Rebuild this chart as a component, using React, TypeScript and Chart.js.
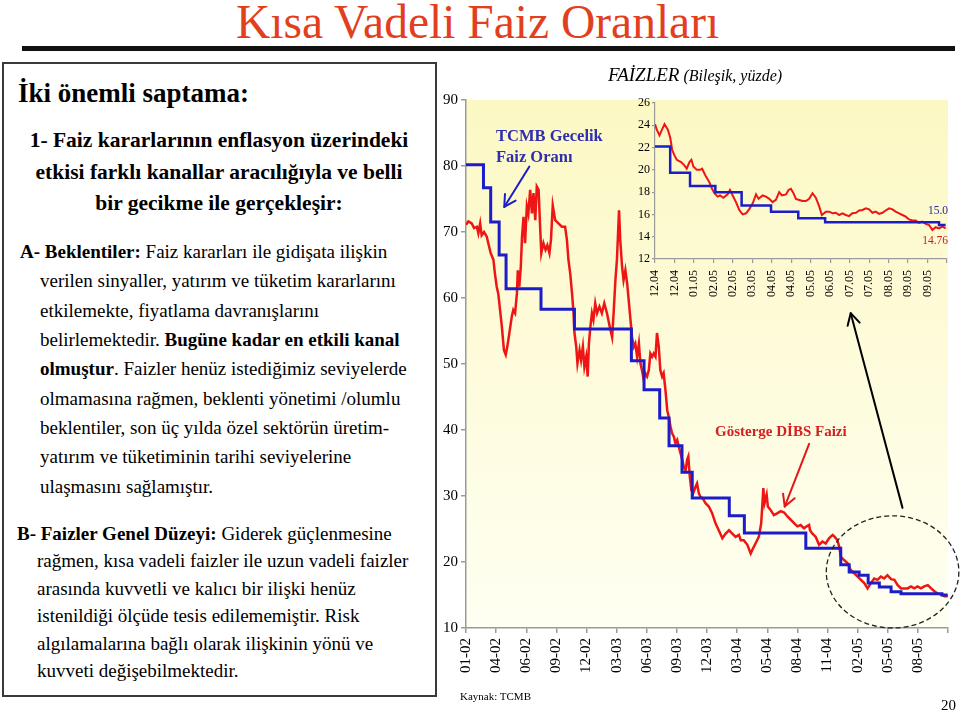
import React, { useEffect, useRef } from 'react';
import { Chart, registerables } from 'chart.js';

Chart.register(...registerables);

const SERIF = '"Liberation Serif", "Times New Roman", Times, serif';

// ---------- main chart data (x in axis-category units) ----------
const mainXLabels = ['01-02', '04-02', '06-02', '09-02', '12-02', '03-03', '06-03', '09-03', '12-03', '03-04', '05-04', '08-04', '11-04', '02-05', '05-05', '08-05'];

// Gösterge DİBS faizi (red) — [x, value]
const mainDibs: [number, number][] = [
  [0, 71.1], [0.08, 71.6], [0.19, 71.3], [0.27, 70.6], [0.36, 70.8], [0.41, 69.8], [0.47, 71.3], [0.52, 69.5], [0.6, 70.0], [0.69, 69.3],
  [0.74, 68.3], [0.82, 66.8], [0.91, 65.8], [0.96, 63.7], [1.02, 61.7], [1.07, 60.7], [1.13, 58.2], [1.19, 55.7], [1.22, 54.1], [1.26, 52.1],
  [1.32, 51.4], [1.37, 52.6], [1.44, 54.7], [1.52, 57.2], [1.57, 58.2], [1.63, 57.7], [1.69, 60.7], [1.72, 64.2], [1.77, 61.7], [1.82, 64.8],
  [1.86, 69.3], [1.91, 72.3], [1.96, 68.3], [2.02, 73.9], [2.07, 72.8], [2.13, 76.4], [2.19, 72.8], [2.24, 75.9], [2.3, 71.8], [2.35, 76.9],
  [2.41, 76.4], [2.46, 70.8], [2.5, 66.8], [2.57, 68.3], [2.64, 67.3], [2.7, 68.0], [2.77, 66.8], [2.82, 68.8], [2.88, 74.0], [2.96, 71.8],
  [3.07, 71.3], [3.18, 70.8], [3.29, 70.8], [3.35, 68.8], [3.4, 65.8], [3.46, 63.7], [3.52, 60.7], [3.57, 57.7], [3.6, 54.7], [3.66, 52.6],
  [3.7, 50.1], [3.77, 52.1], [3.82, 50.6], [3.88, 52.6], [3.93, 49.6], [3.99, 51.1], [4.04, 48.1], [4.08, 53.1], [4.13, 55.7], [4.18, 57.7],
  [4.23, 56.7], [4.29, 59.2], [4.35, 57.7], [4.43, 58.7], [4.51, 57.7], [4.59, 59.2], [4.68, 57.7], [4.77, 55.7], [4.85, 54.1], [4.9, 57.7],
  [4.96, 62.7], [5.01, 65.8], [5.08, 73.3], [5.12, 68.8], [5.18, 64.8], [5.23, 62.7], [5.29, 64.2], [5.35, 62.2], [5.4, 59.7], [5.46, 56.7],
  [5.51, 54.1], [5.57, 52.6], [5.62, 53.1], [5.68, 51.1], [5.74, 53.1], [5.79, 50.1], [5.84, 49.1], [5.9, 47.6], [5.95, 48.6], [6.01, 48.1],
  [6.07, 49.1], [6.12, 51.6], [6.18, 51.1], [6.23, 51.6], [6.29, 51.1], [6.34, 54.7], [6.4, 52.6], [6.45, 49.1], [6.51, 48.1], [6.56, 48.6],
  [6.62, 46.1], [6.68, 43.0], [6.73, 42.0], [6.79, 40.5], [6.84, 39.5], [6.9, 39.0], [6.95, 38.0], [7.01, 38.5], [7.06, 37.5], [7.12, 36.5],
  [7.18, 35.5], [7.23, 34.4], [7.29, 33.9], [7.34, 35.5], [7.38, 36.0], [7.43, 32.9], [7.48, 30.9], [7.54, 30.4], [7.62, 31.4], [7.67, 31.9],
  [7.73, 30.4], [7.78, 29.9], [7.84, 29.7], [7.89, 29.4], [7.95, 28.9], [8.06, 28.4], [8.17, 27.4], [8.28, 25.9], [8.39, 24.8], [8.51, 23.6],
  [8.62, 24.3], [8.73, 24.8], [8.84, 24.3], [8.95, 23.8], [9.06, 24.1], [9.12, 23.3], [9.22, 23.3], [9.34, 22.6], [9.45, 21.3], [9.5, 21.8],
  [9.61, 22.8], [9.72, 23.8], [9.8, 25.9], [9.87, 31.2], [9.91, 28.9], [9.98, 30.2], [10.02, 28.4], [10.11, 27.9], [10.22, 27.1], [10.34, 27.4],
  [10.45, 27.7], [10.56, 27.5], [10.67, 26.9], [10.78, 26.4], [10.89, 25.9], [11.0, 25.4], [11.11, 25.6], [11.22, 25.1], [11.31, 25.4], [11.39, 25.6],
  [11.42, 24.8], [11.5, 24.3], [11.61, 23.8], [11.72, 22.6], [11.83, 23.1], [11.94, 22.8], [12.05, 23.6], [12.17, 24.1], [12.24, 23.8], [12.33, 23.3],
  [12.39, 22.3], [12.44, 20.8], [12.55, 20.3], [12.67, 19.8], [12.77, 18.8], [12.88, 18.3], [13.0, 17.8], [13.11, 17.3], [13.22, 16.8], [13.33, 16.0],
  [13.44, 16.8], [13.55, 17.5], [13.66, 17.3], [13.77, 17.8], [13.88, 17.5], [13.99, 18.0], [14.11, 17.4], [14.22, 17.3], [14.33, 16.5], [14.44, 16.0],
  [14.55, 16.0], [14.66, 16.0], [14.77, 16.3], [14.88, 16.0], [14.99, 16.3], [15.1, 16.0], [15.21, 16.3], [15.33, 16.5], [15.44, 16.0], [15.54, 15.6],
  [15.66, 15.2], [15.77, 15.1], [15.88, 14.8], [15.99, 14.8],
];

// TCMB gecelik faiz oranı (blue step) — level starts at x
const mainTcmb: [number, number][] = [
  [0, 80.2], [0.58, 76.7], [0.82, 71.5], [1.1, 66.5], [1.33, 61.4], [2.49, 58.3], [3.6, 55.3], [5.49, 50.5], [5.91, 46.1], [6.43, 41.8],
  [6.74, 37.6], [7.17, 33.6], [7.51, 29.7], [8.74, 27.0], [9.24, 24.4], [11.28, 22.1], [12.44, 19.6], [12.72, 18.5], [13.05, 18.0], [13.35, 16.8],
  [13.72, 16.2], [14.11, 15.5], [14.44, 15.2], [15.8, 15.0], [15.99, 15.0],
];

// ---------- inset chart data ----------
const insetXLabels = ['12.04', '12.04', '01.05', '02.05', '02.05', '03.05', '04.05', '04.05', '05.05', '06.05', '07.05', '07.05', '08.05', '09.05', '09.05'];

const insetDibs: [number, number][] = [
  [0, 24.1], [0.09, 23.6], [0.23, 23.1], [0.33, 23.5], [0.49, 24.1], [0.66, 23.6], [0.78, 22.9], [0.83, 22.4], [0.88, 21.8], [1.0, 21.3],
  [1.12, 20.9], [1.34, 20.7], [1.51, 20.4], [1.63, 20.1], [1.77, 20.7], [1.87, 20.9], [1.97, 20.3], [2.15, 20.0], [2.32, 20.0], [2.42, 20.1],
  [2.59, 19.5], [2.79, 18.9], [2.93, 18.3], [3.05, 17.9], [3.22, 17.6], [3.34, 17.7], [3.51, 17.5], [3.73, 17.8], [3.85, 18.2], [3.99, 17.7],
  [4.16, 17.1], [4.33, 16.4], [4.5, 16.0], [4.68, 16.1], [4.85, 16.5], [5.02, 17.0], [5.19, 17.8], [5.32, 17.4], [5.53, 17.7], [5.7, 17.6],
  [5.87, 17.4], [6.04, 17.1], [6.21, 17.3], [6.38, 18.0], [6.52, 17.7], [6.73, 17.8], [6.86, 18.2], [6.98, 18.3], [7.1, 17.95], [7.24, 17.4],
  [7.41, 17.3], [7.58, 17.2], [7.75, 17.2], [7.92, 17.4], [8.09, 17.9], [8.26, 17.5], [8.44, 16.7], [8.57, 15.95], [8.78, 16.25], [8.95, 16.25],
  [9.12, 16.1], [9.29, 16.15], [9.46, 15.95], [9.63, 16.1], [9.8, 15.95], [9.97, 15.85], [10.14, 16.1], [10.32, 16.15], [10.49, 16.35], [10.66, 16.4],
  [10.83, 16.55], [11.0, 16.45], [11.17, 16.15], [11.34, 16.25], [11.51, 16.05], [11.68, 16.15], [11.85, 16.35], [12.03, 16.55], [12.2, 16.45], [12.36, 16.25],
  [12.54, 16.1], [12.71, 15.95], [12.88, 15.8], [13.05, 15.55], [13.22, 15.45], [13.39, 15.45], [13.56, 15.25], [13.73, 15.35], [13.91, 15.15], [14.08, 15.05],
  [14.25, 14.6], [14.42, 14.85], [14.59, 14.75], [14.76, 14.9], [14.93, 14.76],
];

const insetTcmb: [number, number][] = [
  [0, 22.1], [0.78, 19.75], [1.8, 18.55], [3.1, 18.0], [4.45, 16.8], [5.96, 16.25], [7.36, 15.65], [8.74, 15.3], [14.59, 15.05], [14.93, 15.05],
];

const RED = '#ee1515';
const BLUE = '#1c1cc8';
const AXIS = '#9a9a9a';

const toXY = (arr: [number, number][]) => arr.map(([x, y]) => ({ x, y }));

const bgPlugin = {
  id: 'plotBg',
  beforeDraw(chart: any, _a: any, opts: any) {
    if (!opts || !opts.fill) return;
    const { ctx, chartArea } = chart;
    const { left, top, right, bottom } = chartArea;
    const g = ctx.createLinearGradient(0, top, 0, bottom);
    g.addColorStop(0, '#fcf8c4');
    g.addColorStop(1, '#fffff2');
    ctx.save();
    ctx.fillStyle = g;
    ctx.fillRect(left, top, right - left, bottom - top);
    ctx.restore();
  },
};

function arrow(ctx: CanvasRenderingContext2D, x1: number, y1: number, x2: number, y2: number, color: string, w: number, head: number) {
  ctx.save();
  ctx.strokeStyle = color;
  ctx.lineWidth = w;
  ctx.lineCap = 'round';
  ctx.lineJoin = 'round';
  ctx.beginPath();
  ctx.moveTo(x1, y1);
  ctx.lineTo(x2, y2);
  ctx.stroke();
  const a = Math.atan2(y2 - y1, x2 - x1);
  ctx.beginPath();
  ctx.moveTo(x2 - head * Math.cos(a - 0.5), y2 - head * Math.sin(a - 0.5));
  ctx.lineTo(x2, y2);
  ctx.lineTo(x2 - head * Math.cos(a + 0.5), y2 - head * Math.sin(a + 0.5));
  ctx.stroke();
  ctx.restore();
}

// annotation geometry in data units of the main chart
const annoArrows = [
  { from: [2.1, 79.9], to: [1.27, 73.8], color: '#1c1cc8', w: 2 },
  { from: [11.39, 37.9], to: [10.58, 28.4], color: '#e01818', w: 2 },
  { from: [14.49, 28.2], to: [12.77, 57.7], color: '#000000', w: 2 },
];
const annoEllipse = { cx: 14.16, cy: 18.5, rx: 2.2, ry: 8.5 };

const annoPlugin = {
  id: 'anno',
  afterDatasetsDraw(chart: any) {
    const { ctx, scales } = chart;
    const xs = scales.x, ys = scales.y;
    annoArrows.forEach((a) => {
      arrow(ctx, xs.getPixelForValue(a.from[0]), ys.getPixelForValue(a.from[1]), xs.getPixelForValue(a.to[0]), ys.getPixelForValue(a.to[1]), a.color, a.w, 13);
    });
    const cx = xs.getPixelForValue(annoEllipse.cx);
    const cy = ys.getPixelForValue(annoEllipse.cy);
    const rx = Math.abs(xs.getPixelForValue(annoEllipse.cx + annoEllipse.rx) - cx);
    const ry = Math.abs(ys.getPixelForValue(annoEllipse.cy + annoEllipse.ry) - cy);
    ctx.save();
    ctx.strokeStyle = '#222';
    ctx.lineWidth = 1.3;
    ctx.setLineDash([5, 3]);
    ctx.beginPath();
    ctx.ellipse(cx, cy, rx, ry, 0, 0, Math.PI * 2);
    ctx.stroke();
    ctx.restore();
  },
};

function MainChart() {
  const ref = useRef<HTMLCanvasElement>(null);
  useEffect(() => {
    if (!ref.current) return;
    const chart = new Chart(ref.current, {
      type: 'line',
      data: {
        datasets: [
          { data: toXY(mainTcmb), borderColor: BLUE, borderWidth: 3, pointRadius: 0, stepped: 'before' as any },
          { data: toXY(mainDibs), borderColor: RED, borderWidth: 2.5, pointRadius: 0, tension: 0 },
        ],
      },
      options: {
        animation: false,
        responsive: false,
        maintainAspectRatio: false,
        events: [],
        layout: { padding: { top: 40, right: 12, left: 0, bottom: 0 } },
        plugins: { legend: { display: false }, tooltip: { enabled: false }, plotBg: { fill: true } } as any,
        scales: {
          x: {
            type: 'linear',
            min: 0,
            max: 16,
            ticks: {
              stepSize: 1,
              autoSkip: false,
              minRotation: 90,
              maxRotation: 90,
              padding: 5,
              color: '#000',
              font: { family: SERIF, size: 15 },
              callback: (v: any) => mainXLabels[Math.round(Number(v))] ?? '',
            },
            grid: { drawOnChartArea: false, drawTicks: true, tickLength: 5, color: AXIS, lineWidth: 1.5 },
            border: { color: AXIS, width: 1.5 },
            afterFit: (s: any) => { s.height = 77; s.paddingLeft = 0; s.paddingRight = 0; },
          },
          y: {
            min: 10,
            max: 90,
            ticks: { stepSize: 10, padding: 3, color: '#000', font: { family: SERIF, size: 15 } },
            grid: { drawOnChartArea: false, drawTicks: true, tickLength: 5, color: AXIS, lineWidth: 1.5 },
            border: { color: AXIS, width: 1.5 },
            afterFit: (s: any) => { s.width = 26; s.paddingTop = 0; s.paddingBottom = 0; },
          },
        },
      },
      plugins: [bgPlugin, annoPlugin],
    });
    return () => chart.destroy();
  }, []);
  return <canvas ref={ref} width={520} height={645} style={{ position: 'absolute', left: 440, top: 60, width: 520, height: 645 }} />;
}

function InsetChart() {
  const ref = useRef<HTMLCanvasElement>(null);
  useEffect(() => {
    if (!ref.current) return;
    const chart = new Chart(ref.current, {
      type: 'line',
      data: {
        datasets: [
          { data: toXY(insetTcmb), borderColor: BLUE, borderWidth: 2.5, pointRadius: 0, stepped: 'before' as any },
          { data: toXY(insetDibs), borderColor: RED, borderWidth: 2, pointRadius: 0, tension: 0 },
        ],
      },
      options: {
        animation: false,
        responsive: false,
        maintainAspectRatio: false,
        events: [],
        layout: { padding: { top: 10, right: 13, left: 0, bottom: 0 } },
        plugins: { legend: { display: false }, tooltip: { enabled: false } },
        scales: {
          x: {
            type: 'linear',
            min: 0,
            max: 15,
            ticks: {
              stepSize: 1,
              autoSkip: false,
              minRotation: 90,
              maxRotation: 90,
              padding: 7,
              color: '#000',
              font: { family: SERIF, size: 12 },
              callback: (v: any) => insetXLabels[Math.round(Number(v))] ?? '',
            },
            grid: { drawOnChartArea: false, drawTicks: true, tickLength: 4, color: AXIS, lineWidth: 1.2 },
            border: { color: AXIS, width: 1.2 },
            afterFit: (s: any) => { s.height = 49; s.paddingLeft = 0; s.paddingRight = 0; },
          },
          y: {
            min: 12,
            max: 26,
            ticks: { stepSize: 2, padding: 2, color: '#000', font: { family: SERIF, size: 12 } },
            grid: { drawOnChartArea: false, drawTicks: true, tickLength: 3, color: AXIS, lineWidth: 1.2 },
            border: { color: AXIS, width: 1.2 },
            afterFit: (s: any) => { s.width = 40; s.paddingTop = 0; s.paddingBottom = 0; },
          },
        },
      },
    });
    return () => chart.destroy();
  }, []);
  return <canvas ref={ref} width={345} height={215} style={{ position: 'absolute', left: 615, top: 93, width: 345, height: 215 }} />;
}

type TP = { x: number; b: number; size: number; bold?: boolean; italic?: boolean; color?: string; center?: boolean; right?: boolean; children: React.ReactNode };
function T({ x, b, size, bold, italic, color, center, right, children }: TP) {
  const style: React.CSSProperties = {
    position: 'absolute',
    top: b - size * 0.8375,
    fontSize: size,
    lineHeight: `${size}px`,
    fontFamily: SERIF,
    fontWeight: bold ? 'bold' : 'normal',
    fontStyle: italic ? 'italic' : 'normal',
    color: color || '#000',
    whiteSpace: 'nowrap',
  };
  if (center) { style.left = x; style.transform = 'translateX(-50%)'; }
  else if (right) { style.right = 960 - x; }
  else style.left = x;
  return <div style={style}>{children}</div>;
}

const aLines = [
  'verilen sinyaller, yatırım ve tüketim kararlarını',
  'etkilemekte, fiyatlama davranışlarını',
];
const aLinesB = [
  'olmamasına rağmen, beklenti yönetimi /olumlu',
  'beklentiler, son üç yılda özel sektörün üretim-',
  'yatırım ve tüketiminin tarihi seviyelerine',
  'ulaşmasını sağlamıştır.',
];
const bLines = [
  'rağmen, kısa vadeli faizler ile uzun vadeli faizler',
  'arasında kuvvetli ve kalıcı bir ilişki henüz',
  'istenildiği ölçüde tesis edilememiştir. Risk',
  'algılamalarına bağlı olarak ilişkinin yönü ve',
  'kuvveti değişebilmektedir.',
];

export default function App() {
  return (
    <div style={{ position: 'absolute', left: 0, top: 0, width: 960, height: 713, overflow: 'hidden', background: '#fff' }}>
      <style>{'body{margin:0}'}</style>
      <T x={236} b={39} size={47.5} color="#e23f1e">Kısa Vadeli Faiz Oranları</T>
      <div style={{ position: 'absolute', left: 22, top: 46, width: 933, height: 5, background: '#111' }} />

      <div style={{ position: 'absolute', left: 2, top: 62, width: 435, height: 635, border: '2px solid #3a3a3a', boxSizing: 'border-box' }} />
      <T x={18} b={103} size={27} bold>İki önemli saptama:</T>
      <T x={219} b={148} size={21.5} bold center>1- Faiz kararlarının enflasyon üzerindeki</T>
      <T x={219} b={180} size={21.5} bold center>etkisi farklı kanallar aracılığıyla ve belli</T>
      <T x={219} b={211.5} size={21.5} bold center>bir gecikme ile gerçekleşir:</T>
      <T x={20} b={258} size={19}><b>A- Beklentiler:</b> Faiz kararları ile gidişata ilişkin</T>
      {aLines.map((s, i) => <T key={s} x={40} b={287.3 + i * 29.3} size={19}>{s}</T>)}
      <T x={40} b={346} size={19}>belirlemektedir. <b>Bugüne kadar en etkili kanal</b></T>
      <T x={40} b={375.3} size={19}><b>olmuştur</b>. Faizler henüz istediğimiz seviyelerde</T>
      {aLinesB.map((s, i) => <T key={s} x={40} b={404.6 + i * 29.3} size={19}>{s}</T>)}
      <T x={17} b={540} size={19}><b>B- Faizler Genel Düzeyi:</b> Giderek güçlenmesine</T>
      {bLines.map((s, i) => <T key={s} x={37} b={567.3 + i * 27.5} size={19}>{s}</T>)}

      <MainChart />
      <InsetChart />

      <div style={{ position: 'absolute', left: 608, top: 64, whiteSpace: 'nowrap', fontFamily: SERIF, fontStyle: 'italic', color: '#000', lineHeight: '22px' }}>
        <span style={{ fontSize: 19 }}>FAİZLER</span> <span style={{ fontSize: 16 }}>(Bileşik, yüzde)</span>
      </div>
      <T x={948} b={215} size={11.5} right color="#2a2aa0">15.0</T>
      <T x={948} b={245} size={11.5} right color="#c82020">14.76</T>

      <T x={496} b={142} size={16.5} bold color="#2e2eb0">TCMB Gecelik</T>
      <T x={496} b={163} size={16.5} bold color="#2e2eb0">Faiz Oranı</T>
      <T x={715} b={437} size={15} bold color="#d42020">Gösterge DİBS Faizi</T>

      <T x={460} b={700} size={11}>Kaynak: TCMB</T>
      <T x={941} b={711} size={15}>20</T>
    </div>
  );
}
